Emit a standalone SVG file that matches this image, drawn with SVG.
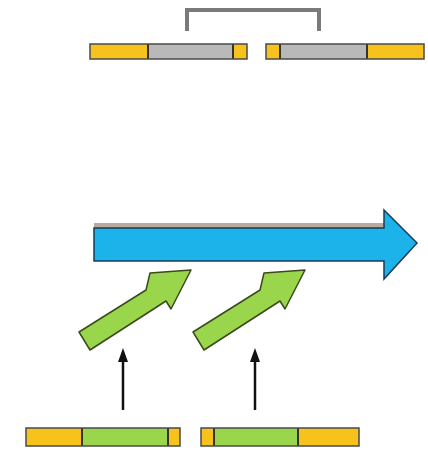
<svg xmlns="http://www.w3.org/2000/svg" width="428" height="452" viewBox="0 0 428 452">
<style>
.bar{stroke:#4a4a4a;stroke-width:1.5}
.y{fill:#f8c21c}
.g{fill:#b9b9b9}
.gr{fill:#9ad64c}
.sep{stroke:#333;stroke-width:2}
.garrow{fill:#9ad64c;stroke:#3a4a1a;stroke-width:1.5;stroke-linejoin:round}
.conn{stroke:#111;stroke-width:2.5;fill:none}
</style>
<defs>
<marker id="ah" markerWidth="14" markerHeight="10" refX="0" refY="5" orient="auto" markerUnits="userSpaceOnUse" viewBox="0 0 14 10">
<path d="M0,0 L14,5 L0,10 Z" fill="#111"/>
</marker>
</defs>
<rect width="428" height="452" fill="#fff"/>
<g id="bracket">
<path d="M187,31 V10 H319 V31" fill="none" stroke="#7a7a7a" stroke-width="4"/>
</g>
<g id="topLeftBar">
<rect x="90" y="44" width="157" height="15" class="y"/>
<rect x="148" y="44" width="85" height="15" class="g"/>
<line x1="148" y1="44" x2="148" y2="59" class="sep"/>
<line x1="233" y1="44" x2="233" y2="59" class="sep"/>
<rect x="90" y="44" width="157" height="15" fill="none" class="bar"/>
</g>
<g id="topRightBar">
<rect x="266" y="44" width="158" height="15" class="y"/>
<rect x="280" y="44" width="87" height="15" class="g"/>
<line x1="280" y1="44" x2="280" y2="59" class="sep"/>
<line x1="367" y1="44" x2="367" y2="59" class="sep"/>
<rect x="266" y="44" width="158" height="15" fill="none" class="bar"/>
</g>
<g id="blueArrow">
<rect x="94" y="223" width="290" height="6" fill="#b8aaa0"/>
<path d="M94,228 H384 V210 L417,243 L384,279 V261 H94 Z" fill="#1bb3ea" stroke="#1a3a5a" stroke-width="1.5" stroke-linejoin="miter"/>
</g>
<g id="greenArrow1">
<path d="M79,332 L146,290 L150,273 L191,270 L171,309 L166,301 L90,350 Z" class="garrow"/>
</g>
<g id="greenArrow2">
<path d="M79,332 L146,290 L150,273 L191,270 L171,309 L166,301 L90,350 Z" class="garrow" transform="translate(114,0)"/>
</g>
<g id="bottomLeftBar">
<rect x="26" y="428" width="154" height="18" class="y"/>
<rect x="82" y="428" width="86" height="18" class="gr"/>
<line x1="82" y1="428" x2="82" y2="446" class="sep"/>
<line x1="168" y1="428" x2="168" y2="446" class="sep"/>
<rect x="26" y="428" width="154" height="18" fill="none" class="bar"/>
</g>
<g id="bottomRightBar">
<rect x="201" y="428" width="158" height="18" class="y"/>
<rect x="214" y="428" width="84" height="18" class="gr"/>
<line x1="214" y1="428" x2="214" y2="446" class="sep"/>
<line x1="298" y1="428" x2="298" y2="446" class="sep"/>
<rect x="201" y="428" width="158" height="18" fill="none" class="bar"/>
</g>
<g id="connectors">
<line x1="123" y1="410" x2="123" y2="362" class="conn" marker-end="url(#ah)"/>
<line x1="255" y1="410" x2="255" y2="362" class="conn" marker-end="url(#ah)"/>
</g>
</svg>
